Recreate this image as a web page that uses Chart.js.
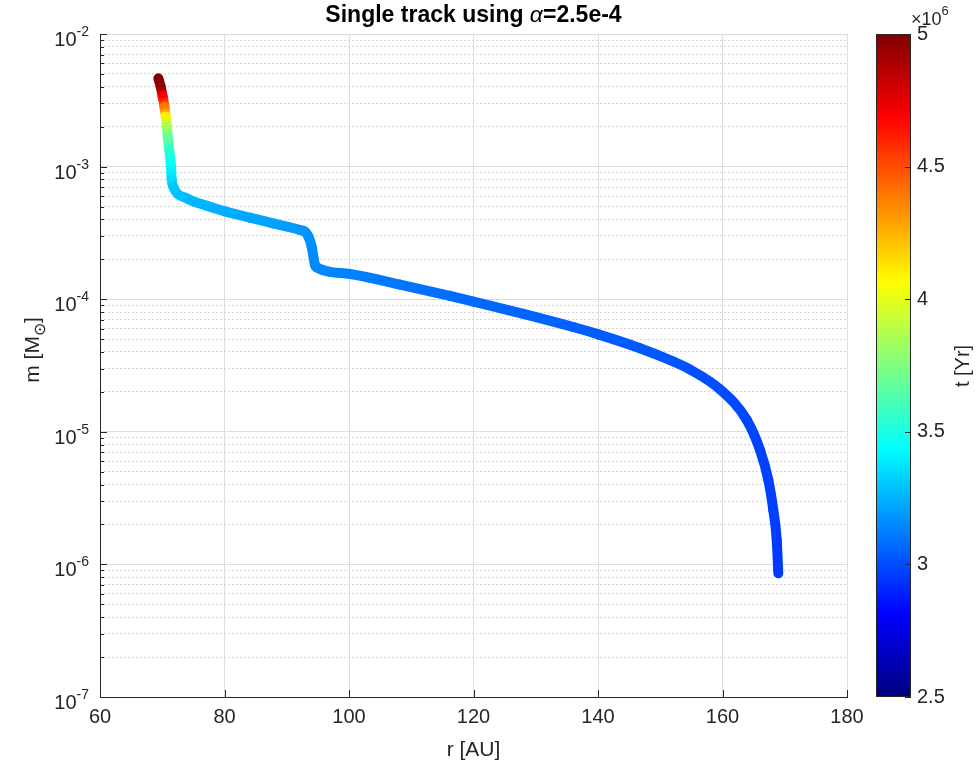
<!DOCTYPE html>
<html lang="en">
<head>
    <meta charset="UTF-8">
    <title>Single track using alpha=2.5e-4</title>
    <!-- Chart.js CDN -->
    <script src="https://cdn.jsdelivr.net/npm/chart.js"></script>
    <style>
        html, body { margin: 0; padding: 0; background: #fff; }
        .chart-container { position: relative; width: 979px; height: 774px; }
    </style>
</head>
<body>

    <!-- Chart Container -->
    <div class="chart-container">
        <canvas id="trackChart" width="979" height="774"></canvas>
    </div>

    <script>
        // Track: radius (AU), mass (Msun), time (x10^6 yr)
        const radiusAU = [69.37, 69.75, 70.07, 70.36, 70.55, 70.76, 70.88, 71.13, 71.36, 71.52, 71.78,
                          73.93, 77.14, 80.08, 84.1, 87.95, 92.13, 92.93, 93.5, 94.0, 94.54, 94.8,
                          100.16, 108.2, 116.2, 119.97, 128.0, 136.03, 140.05, 146.75, 152.1, 154.78,
                          159.6, 163.89, 166.02, 167.36, 168.16, 168.71, 168.96];
        const massMsun = [4.63e-3, 4.01e-3, 3.37e-3, 2.83e-3, 2.38e-3, 2.0e-3, 1.68e-3, 1.33e-3, 1.06e-3, 7.93e-4, 7.05e-4,
                          5.77e-4, 5.07e-4, 4.6e-4, 4.12e-4, 3.72e-4, 3.33e-4, 3.23e-4, 2.96e-4, 2.49e-4, 1.81e-4, 1.74e-4,
                          1.55e-4, 1.29e-4, 1.06e-4, 9.6e-5, 7.76e-5, 6.17e-5, 5.43e-5, 4.27e-5, 3.39e-5, 2.95e-5,
                          2.09e-5, 1.23e-5, 7.3e-6, 4.33e-6, 2.57e-6, 1.53e-6, 8.57e-7];
        const timeMyr = [5.0, 4.95, 4.7, 4.4, 4.1, 3.85, 3.7, 3.55, 3.45, 3.35, 3.3,
                         3.27, 3.25, 3.24, 3.22, 3.21, 3.19, 3.18, 3.17, 3.16, 3.15, 3.15,
                         3.13, 3.1, 3.08, 3.07, 3.06, 3.05, 3.04, 3.03, 3.02, 3.01,
                         3.0, 2.99, 2.98, 2.97, 2.97, 2.96, 2.96];

        // Axes
        const xTicks = [60, 80, 100, 120, 140, 160, 180];
        const yDecades = [-7, -6, -5, -4, -3, -2];
        const cbTicks = [2.5, 3, 3.5, 4, 4.5, 5];
        const cbMin = 2.5, cbMax = 5;

        const FONT = "'Liberation Sans', Arial, Helvetica, sans-serif";
        const TXT = '#262626';
        Chart.defaults.font.family = FONT;
        Chart.defaults.color = TXT;

        // MATLAB jet colormap
        function jet(v) {
            v = Math.max(0, Math.min(1, v));
            const c = k => Math.round(255 * Math.max(0, Math.min(1, 1.5 - Math.abs(4 * v - k))));
            return `rgb(${c(3)},${c(2)},${c(1)})`;
        }
        const tNorm = t => (t - cbMin) / (cbMax - cbMin);

        const majorY = yDecades.map(e => Math.pow(10, e));
        const minorY = [];
        yDecades.slice(0, -1).forEach(e => {
            for (let k = 2; k <= 9; k++) minorY.push(k * Math.pow(10, e));
        });

        // Extra drawing: title, y labels, inward ticks, colorbar
        const matlabDecor = {
            id: 'matlabDecor',
            afterDraw(chart) {
                const ctx = chart.ctx;
                const xs = chart.scales.x, ys = chart.scales.y, cb = chart.scales.cb;
                const area = chart.chartArea;
                ctx.save();

                // title with italic alpha
                const parts = [
                    { t: 'Single track using ', f: `bold 23px ${FONT}` },
                    { t: '\u03B1', f: `italic 23px ${FONT}` },
                    { t: '=2.5e-4', f: `bold 23px ${FONT}` }
                ];
                let tw = 0;
                parts.forEach(p => { ctx.font = p.f; p.w = ctx.measureText(p.t).width; tw += p.w; });
                let tx = (area.left + area.right) / 2 - tw / 2;
                ctx.fillStyle = '#000';
                ctx.textBaseline = 'alphabetic';
                ctx.textAlign = 'left';
                parts.forEach(p => { ctx.font = p.f; ctx.fillText(p.t, tx, 22); tx += p.w; });

                // y tick labels 10^n
                ctx.fillStyle = TXT;
                yDecades.forEach(e => {
                    const py = ys.getPixelForValue(Math.pow(10, e));
                    const ex = String(e);
                    ctx.font = `14px ${FONT}`;
                    const ew = ctx.measureText(ex).width;
                    ctx.textAlign = 'left';
                    ctx.fillText(ex, 89 - ew, py + 2);
                    ctx.font = `20px ${FONT}`;
                    ctx.textAlign = 'right';
                    ctx.fillText('10', 89 - ew, py + 12);
                });

                // y axis title m [M_sun]
                ctx.save();
                ctx.translate(31, 350);
                ctx.rotate(-Math.PI / 2);
                ctx.textAlign = 'left';
                ctx.font = `21px ${FONT}`;
                const a = 'm [M', b = '\u2299', c = ']';
                const wa = ctx.measureText(a).width, wc = ctx.measureText(c).width;
                ctx.font = `16px ${FONT}`;
                const wb = ctx.measureText(b).width;
                let lx = -(wa + wb + wc) / 2;
                ctx.font = `21px ${FONT}`;
                ctx.fillText(a, lx, 8);
                ctx.font = `16px ${FONT}`;
                ctx.fillText(b, lx + wa, 14);
                ctx.font = `21px ${FONT}`;
                ctx.fillText(c, lx + wa + wb, 8);
                ctx.restore();

                // inward tick marks
                ctx.strokeStyle = TXT;
                ctx.lineWidth = 1;
                ctx.beginPath();
                xTicks.forEach(v => {
                    const px = Math.round(xs.getPixelForValue(v)) + 0.5;
                    ctx.moveTo(px, area.bottom);
                    ctx.lineTo(px, area.bottom - 7);
                });
                majorY.forEach(v => {
                    const py = Math.round(ys.getPixelForValue(v)) + 0.5;
                    ctx.moveTo(area.left, py);
                    ctx.lineTo(area.left + 7, py);
                });
                minorY.forEach(v => {
                    const py = Math.round(ys.getPixelForValue(v)) + 0.5;
                    ctx.moveTo(area.left, py);
                    ctx.lineTo(area.left + 4, py);
                });
                ctx.stroke();

                // colorbar
                const cx = cb.left + 29, cw = 35;
                const top = cb.getPixelForValue(cbMax), bot = cb.getPixelForValue(cbMin);
                const grad = ctx.createLinearGradient(0, bot, 0, top);
                for (let i = 0; i <= 64; i++) grad.addColorStop(i / 64, jet(i / 64));
                ctx.fillStyle = grad;
                ctx.fillRect(cx, top, cw, bot - top);
                ctx.strokeStyle = TXT;
                ctx.strokeRect(cx + 0.5, top + 0.5, cw - 1, bot - top - 1);
                ctx.beginPath();
                cbTicks.forEach(v => {
                    const py = Math.round(cb.getPixelForValue(v)) + 0.5;
                    ctx.moveTo(cx + cw - 6, py);
                    ctx.lineTo(cx + cw, py);
                });
                ctx.stroke();

                // x10^6 multiplier
                ctx.fillStyle = TXT;
                ctx.textAlign = 'left';
                ctx.font = `18px ${FONT}`;
                ctx.fillText('\u00D710', 911, 25);
                const mw = ctx.measureText('\u00D710').width;
                ctx.font = `13px ${FONT}`;
                ctx.fillText('6', 911 + mw, 15);

                // colorbar label
                ctx.save();
                ctx.translate(963, 366);
                ctx.rotate(-Math.PI / 2);
                ctx.textAlign = 'center';
                ctx.textBaseline = 'middle';
                ctx.font = `20px ${FONT}`;
                ctx.fillText('t [Yr]', 0, 0);
                ctx.restore();

                ctx.restore();
            }
        };

        const ctx = document.getElementById('trackChart').getContext('2d');

        // colour each piece of the track with a gradient between its end times
        function segColor(s) {
            const c0 = jet(tNorm(timeMyr[s.p0DataIndex]));
            const c1 = jet(tNorm(timeMyr[s.p1DataIndex]));
            if (c0 === c1 || (s.p0.x === s.p1.x && s.p0.y === s.p1.y)) return c0;
            const g = ctx.createLinearGradient(s.p0.x, s.p0.y, s.p1.x, s.p1.y);
            g.addColorStop(0, c0);
            g.addColorStop(1, c1);
            return g;
        }

        const trackChart = new Chart(ctx, {
            type: 'line',
            data: {
                datasets: [{
                    label: 'track',
                    data: radiusAU.map((r, i) => ({ x: r, y: massMsun[i] })),
                    borderWidth: 10,
                    pointRadius: 0,
                    cubicInterpolationMode: 'monotone',
                    borderCapStyle: 'round',
                    borderJoinStyle: 'round',
                    fill: false,
                    segment: { borderColor: segColor }
                }]
            },
            options: {
                responsive: false,
                animation: false,
                events: [],
                layout: { padding: { top: 34, left: 0, right: 0, bottom: 0 } },
                plugins: {
                    legend: { display: false },
                    tooltip: { enabled: false }
                },
                scales: {
                    x: {
                        type: 'linear',
                        min: 60,
                        max: 180,
                        afterBuildTicks: s => { s.ticks = xTicks.map(v => ({ value: v })); },
                        afterFit: s => { s.height = 77; },
                        ticks: {
                            font: { size: 20 },
                            color: TXT,
                            padding: 8,
                            maxRotation: 0,
                            autoSkip: false
                        },
                        grid: { color: '#dddddd', drawTicks: false },
                        border: { color: TXT, width: 1 },
                        title: {
                            display: true,
                            text: 'r [AU]',
                            font: { size: 21 },
                            color: TXT,
                            padding: { top: 0, bottom: 11 }
                        }
                    },
                    y: {
                        type: 'logarithmic',
                        position: 'left',
                        min: 1e-7,
                        max: 1e-2,
                        afterBuildTicks: s => { s.ticks = majorY.map(v => ({ value: v, major: true })); },
                        afterFit: s => { s.width = 100; },
                        ticks: { display: false },
                        grid: { color: '#dddddd', drawTicks: false },
                        border: { color: TXT, width: 1 }
                    },
                    yMinor: {
                        type: 'logarithmic',
                        position: 'left',
                        min: 1e-7,
                        max: 1e-2,
                        afterBuildTicks: s => { s.ticks = minorY.map(v => ({ value: v })); },
                        afterFit: s => { s.width = 0; },
                        ticks: { display: false },
                        grid: { color: '#d6d6d6', drawTicks: false, borderDash: [2, 2] },
                        border: { display: false, dash: [2, 2] }
                    },
                    cb: {
                        type: 'linear',
                        position: 'right',
                        min: cbMin,
                        max: cbMax,
                        afterBuildTicks: s => { s.ticks = cbTicks.map(v => ({ value: v })); },
                        afterFit: s => { s.width = 132; },
                        ticks: {
                            font: { size: 20 },
                            color: TXT,
                            padding: 4,
                            callback: v => String(v)
                        },
                        grid: {
                            display: true,
                            drawOnChartArea: false,
                            drawTicks: true,
                            tickLength: 66,
                            tickColor: 'rgba(0,0,0,0)'
                        },
                        border: { display: false }
                    }
                }
            },
            plugins: [matlabDecor]
        });
    </script>

</body>
</html>
